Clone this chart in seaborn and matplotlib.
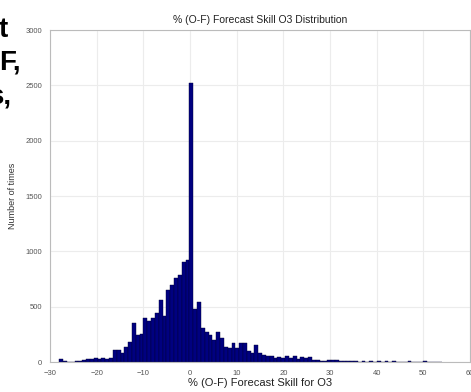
import numpy as np
import pandas as pd
import matplotlib
matplotlib.use("Agg")
import matplotlib.pyplot as plt
import seaborn as sns

# histogram: 100 bins of width 0.82 starting at -28
bin_start = -28.0
bin_width = 0.82
counts = [
    25, 5, 0, 3, 10, 8, 15, 25, 30, 38,
    30, 35, 30, 40, 108, 110, 80, 140, 180, 350,
    245, 250, 400, 370, 400, 440, 560, 420, 650, 700,
    760, 790, 900, 920, 2520, 480, 540, 307, 270, 244,
    200, 270, 217, 136, 125, 170, 125, 170, 170, 100,
    80, 150, 80, 60, 50, 50, 40, 45, 40, 55,
    35, 50, 25, 45, 40, 45, 20, 15, 10, 12,
    20, 22, 18, 10, 8, 6, 5, 8, 3, 6,
    0, 10, 4, 6, 2, 5, 3, 7, 2, 4,
    3, 5, 2, 4, 2, 6, 1, 0, 0, 0,
]
x_ticks = [-30, -20, -10, 0, 10, 20, 30, 40, 50, 60]
y_ticks = [0, 500, 1000, 1500, 2000, 2500, 3000]

title = "% (O-F) Forecast Skill O3 Distribution"
xlabel = "% (O-F) Forecast Skill for O3"
ylabel = "Number of times"

bin_end = bin_start + bin_width * len(counts)
centers = bin_start + bin_width * (np.arange(len(counts)) + 0.5)
df = pd.DataFrame({"skill": centers, "n": counts})

sns.set_style("white")
plt.rcParams["font.family"] = ["Liberation Sans", "DejaVu Sans"]

fig = plt.figure(figsize=(4.71, 3.92), dpi=100)
ax = fig.add_axes([0.106, 0.0765, 0.892, 0.8465])

sns.histplot(data=df, x="skill", weights="n", binwidth=bin_width,
             binrange=(bin_start, bin_end), ax=ax,
             color="#000080", edgecolor="#000033", linewidth=0.3, alpha=1)

ax.set_xlim(-30, 60)
ax.set_ylim(0, 3000)
ax.set_xticks(x_ticks)
ax.set_yticks(y_ticks)
ax.grid(True, color="#ececec", linewidth=0.8)
ax.set_axisbelow(True)
for s in ax.spines.values():
    s.set_color("#bbbbbb")
    s.set_linewidth(0.8)
ax.tick_params(labelsize=5.5, colors="#555555", length=2, width=0.6)

ax.set_title(title, fontsize=7.5, color="#222222", pad=5)
ax.set_xlabel(xlabel, fontsize=8, color="#222222", labelpad=1)
ax.set_ylabel(ylabel, fontsize=6.5, color="#333333", labelpad=6)

# clipped text from the neighbouring slide column
bold = dict(fontsize=20, fontweight="bold", color="black", va="baseline")
fig.text(-1 / 471, 1 - 37 / 392, "t", ha="left", **bold)
fig.text(-1 / 471, 1 - 70 / 392, "F,", ha="left", **bold)
fig.text(11 / 471, 1 - 104 / 392, "s,", ha="right", **bold)

fig.savefig("out.png", dpi=100)
